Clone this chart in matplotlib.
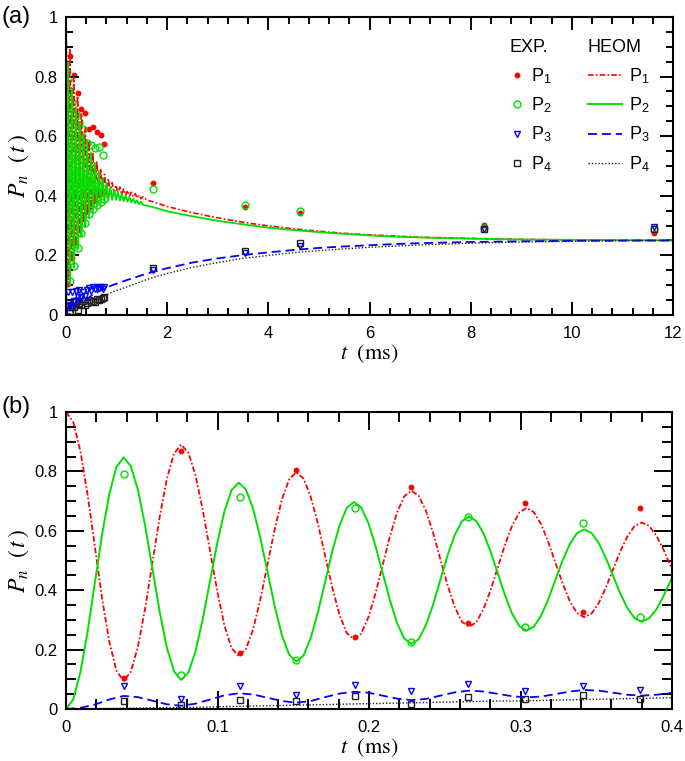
import numpy as np
import matplotlib
matplotlib.use('Agg')
import matplotlib.pyplot as plt
from matplotlib.lines import Line2D
from matplotlib.ticker import MultipleLocator, FuncFormatter

plt.rcParams['font.family'] = ['Liberation Sans', 'DejaVu Sans']
plt.rcParams['mathtext.fontset'] = 'stix'
plt.rcParams['lines.scale_dashes'] = False

# ---- HEOM curves, panel (b): sampled every 0.00475 ms ----
dt_b = 0.00475
p1_b = [1.000, 0.966, 0.868, 0.721, 0.548, 0.374, 0.228, 0.129, 0.095,
        0.125, 0.211, 0.340, 0.493, 0.645, 0.774, 0.860, 0.890,
        0.863, 0.786, 0.670, 0.534, 0.398, 0.282, 0.205, 0.178,
        0.202, 0.269, 0.369, 0.488, 0.606, 0.706, 0.773, 0.797,
        0.776, 0.715, 0.624, 0.516, 0.409, 0.317, 0.256, 0.235,
        0.254, 0.308, 0.389, 0.485, 0.581, 0.662, 0.716, 0.735,
        0.718, 0.668, 0.594, 0.506, 0.418, 0.344, 0.294, 0.277,
        0.292, 0.336, 0.400, 0.477, 0.554, 0.618, 0.662, 0.677,
        0.663, 0.623, 0.563, 0.493, 0.423, 0.363, 0.323, 0.309,
        0.321, 0.356, 0.408, 0.469, 0.530, 0.581, 0.616, 0.628,
        0.617, 0.585, 0.538, 0.482, 0.425]
p2_b = [0.000, 0.032, 0.124, 0.261, 0.424, 0.586, 0.723, 0.815, 0.847,
        0.818, 0.737, 0.616, 0.473, 0.329, 0.208, 0.127, 0.098,
        0.123, 0.195, 0.303, 0.430, 0.557, 0.665, 0.737, 0.762,
        0.739, 0.674, 0.576, 0.461, 0.346, 0.248, 0.183, 0.160,
        0.180, 0.239, 0.326, 0.428, 0.531, 0.618, 0.677, 0.697,
        0.679, 0.627, 0.549, 0.458, 0.367, 0.289, 0.237, 0.219,
        0.235, 0.282, 0.351, 0.434, 0.516, 0.585, 0.632, 0.648,
        0.633, 0.592, 0.530, 0.456, 0.383, 0.320, 0.279, 0.264,
        0.277, 0.314, 0.369, 0.435, 0.500, 0.555, 0.592, 0.605,
        0.593, 0.560, 0.509, 0.450, 0.390, 0.340, 0.306, 0.294,
        0.305, 0.334, 0.379, 0.432, 0.485]
# P3, P4 sampled every 0.0095 ms
dt_b34 = 0.0095
p3_b = [0.000, 0.004, 0.015, 0.032, 0.044, 0.040, 0.028, 0.016, 0.011,
        0.018, 0.032, 0.046, 0.053, 0.049, 0.038, 0.027, 0.021,
        0.027, 0.040, 0.052, 0.058, 0.055, 0.045, 0.035, 0.030,
        0.034, 0.045, 0.056, 0.062, 0.059, 0.051, 0.043, 0.039,
        0.042, 0.050, 0.059, 0.064, 0.062, 0.055, 0.048, 0.045,
        0.048, 0.054, 0.058]
p4_b = [0.000, 0.000, 0.001, 0.002, 0.003, 0.003, 0.004, 0.005, 0.005,
        0.006, 0.007, 0.008, 0.009, 0.010, 0.011, 0.012, 0.013,
        0.014, 0.015, 0.016, 0.017, 0.018, 0.019, 0.020, 0.021,
        0.022, 0.023, 0.024, 0.025, 0.026, 0.027, 0.027, 0.028,
        0.029, 0.030, 0.031, 0.032, 0.033, 0.034, 0.035, 0.036,
        0.037, 0.038, 0.039]

# ---- HEOM curves, panel (a): extra extrema after 0.4 ms and long tail ----
t_osc = [0.418, 0.456, 0.494, 0.532, 0.570, 0.608, 0.646, 0.684, 0.722, 0.760,
         0.798, 0.836, 0.874, 0.912, 0.950, 0.988, 1.026, 1.064, 1.102, 1.140,
         1.178, 1.216, 1.254, 1.292, 1.330, 1.368, 1.406, 1.444, 1.482, 1.520]
p1_osc = [0.335, 0.585, 0.355, 0.545, 0.374, 0.516, 0.389, 0.491, 0.399, 0.472,
          0.404, 0.457, 0.406, 0.444, 0.406, 0.436, 0.406, 0.429, 0.404, 0.423,
          0.401, 0.418, 0.399, 0.412, 0.396, 0.407, 0.393, 0.402, 0.390, 0.397]
p2_osc = [0.585, 0.325, 0.545, 0.345, 0.510, 0.362, 0.483, 0.375, 0.461, 0.382,
          0.444, 0.385, 0.430, 0.386, 0.420, 0.386, 0.413, 0.384, 0.407, 0.382,
          0.401, 0.380, 0.396, 0.378, 0.390, 0.375, 0.385, 0.372, 0.380, 0.369]
t_tail = [1.6, 1.8, 2.0, 2.5, 3.0, 3.5, 4.0, 4.5, 5.0, 5.5, 6.0, 6.5, 7.0,
          7.5, 8.0, 9.0, 10.0, 11.0, 12.0]
p1_tail = [0.386, 0.375, 0.364, 0.343, 0.326, 0.311, 0.299, 0.289, 0.281,
           0.274, 0.269, 0.265, 0.261, 0.259, 0.257, 0.254, 0.252, 0.251, 0.2505]
p2_tail = [0.367, 0.358, 0.348, 0.331, 0.316, 0.304, 0.293, 0.285, 0.278,
           0.272, 0.267, 0.263, 0.260, 0.258, 0.256, 0.253, 0.252, 0.251, 0.2505]
t_34 = [0.5, 0.6, 0.7, 0.8, 0.9, 1.0, 1.2, 1.4, 1.6, 1.8, 2.0, 2.5, 3.0, 3.5,
        4.0, 4.5, 5.0, 5.5, 6.0, 6.5, 7.0, 7.5, 8.0, 9.0, 10.0, 11.0, 12.0]
p3_tail = [0.065, 0.075, 0.084, 0.092, 0.099, 0.105, 0.117, 0.128, 0.139,
           0.148, 0.157, 0.176, 0.190, 0.201, 0.210, 0.218, 0.225, 0.230,
           0.234, 0.238, 0.241, 0.243, 0.245, 0.247, 0.249, 0.2495, 0.250]
p4_tail = [0.041, 0.048, 0.058, 0.068, 0.076, 0.082, 0.094, 0.107, 0.119,
           0.130, 0.139, 0.160, 0.176, 0.190, 0.200, 0.209, 0.216, 0.222,
           0.227, 0.231, 0.235, 0.238, 0.241, 0.245, 0.247, 0.249, 0.250]

# ---- experimental points ----
t_exp = [0.038, 0.076, 0.115, 0.152, 0.191, 0.228, 0.265, 0.303, 0.341, 0.379]
e1 = [0.105, 0.870, 0.190, 0.805, 0.244, 0.746, 0.290, 0.692, 0.327, 0.678]
e2 = [0.791, 0.115, 0.715, 0.165, 0.676, 0.226, 0.648, 0.276, 0.625, 0.310]
e3 = [0.077, 0.033, 0.077, 0.047, 0.081, 0.061, 0.084, 0.061, 0.077, 0.064]
e4 = [0.028, 0.013, 0.030, 0.027, 0.045, 0.017, 0.041, 0.033, 0.047, 0.033]

t_exp_mid = [0.418, 0.456, 0.494, 0.532, 0.570, 0.608, 0.646, 0.684, 0.722, 0.760]
e1_mid = [0.360, 0.625, 0.380, 0.630, 0.395, 0.615, 0.405, 0.604, 0.415, 0.574]
e2_mid = [0.578, 0.340, 0.570, 0.355, 0.561, 0.370, 0.562, 0.380, 0.537, 0.390]
e3_mid = [0.085, 0.090, 0.082, 0.093, 0.088, 0.095, 0.090, 0.094, 0.088, 0.095]
e4_mid = [0.040, 0.050, 0.042, 0.048, 0.045, 0.052, 0.050, 0.055, 0.058, 0.062]

t_exp_late = [1.72, 3.54, 4.63, 8.27, 11.63]
e1_late = [0.442, 0.363, 0.341, 0.301, 0.276]
e2_late = [0.422, 0.369, 0.349, 0.292, 0.290]
e3_late = [0.152, 0.208, 0.233, 0.288, 0.294]
e4_late = [0.157, 0.216, 0.242, 0.288, 0.287]

red = '#ff0000'
green = '#00e000'
blue = '#0000ff'
black = '#222222'
ls1 = (0, (4.0, 1.6, 1.2, 1.6))
ls3 = (0, (6.5, 3.5))
ls4 = (0, (1.0, 1.4))

t_b = np.arange(len(p1_b)) * dt_b
t_b34 = np.arange(len(p3_b)) * dt_b34

fig = plt.figure(figsize=(6.85, 7.61), dpi=100)
ax_a = fig.add_axes([0.0964, 0.5861, 0.8861, 0.3916])
ax_b = fig.add_axes([0.0964, 0.0683, 0.8847, 0.3903])

# panel (a): experimental points under the curves
tea = t_exp + t_exp_mid + t_exp_late
ax_a.plot(tea, e1 + e1_mid + e1_late, 'o', color=red, ms=3.2, ls='none', zorder=1)
ax_a.plot(tea, e2 + e2_mid + e2_late, 'o', mfc='none', mec=green, mew=1.0, ms=5, ls='none', zorder=1)
ax_a.plot(tea, e3 + e3_mid + e3_late, 'v', mfc='none', mec=blue, mew=1.0, ms=5, ls='none', zorder=1)
ax_a.plot(tea, e4 + e4_mid + e4_late, 's', mfc='none', mec=black, mew=1.0, ms=4.2, ls='none', zorder=1)

n = len(p1_b) - 1
ta = np.concatenate([t_b[:n], t_osc, t_tail])
ax_a.plot(ta, np.concatenate([p1_b[:n], p1_osc, p1_tail]), color=red, lw=1.2, ls=ls1)
ax_a.plot(ta, np.concatenate([p2_b[:n], p2_osc, p2_tail]), color=green, lw=1.3)
t34a = np.concatenate([t_b34[:-2], t_34])
ax_a.plot(t34a, np.concatenate([p3_b[:-2], p3_tail]), color=blue, lw=1.3, ls=ls3)
ax_a.plot(t34a, np.concatenate([p4_b[:-2], p4_tail]), color=black, lw=1.0, ls=ls4)

# panel (b)
ax_b.plot(t_b, p1_b, color=red, lw=1.3, ls=ls1)
ax_b.plot(t_b, p2_b, color=green, lw=1.4)
ax_b.plot(t_b34, p3_b, color=blue, lw=1.3, ls=ls3)
ax_b.plot(t_b34, p4_b, color=black, lw=1.0, ls=ls4)
ax_b.plot(t_exp, e1, 'o', color=red, ms=3.2, ls='none')
ax_b.plot(t_exp, e2, 'o', mfc='none', mec=green, mew=1.0, ms=5, ls='none')
ax_b.plot(t_exp, e3, 'v', mfc='none', mec=blue, mew=1.0, ms=5, ls='none')
ax_b.plot(t_exp, e4, 's', mfc='none', mec=black, mew=1.0, ms=4.2, ls='none')

fmt = FuncFormatter(lambda v, _: f'{v:g}')
for ax, xmax, xmaj, xmin, big, small in [(ax_a, 12, 2, 0.4, 9.5, 5),
                                         (ax_b, 0.4, 0.1, 0.02, 13, 7)]:
    ax.set_xlim(0, xmax)
    ax.set_ylim(0, 1)
    ax.xaxis.set_major_locator(MultipleLocator(xmaj))
    ax.xaxis.set_minor_locator(MultipleLocator(xmin))
    ax.yaxis.set_major_locator(MultipleLocator(0.2))
    ax.yaxis.set_minor_locator(MultipleLocator(0.05))
    ax.xaxis.set_major_formatter(fmt)
    ax.yaxis.set_major_formatter(fmt)
    ax.tick_params(which='both', direction='in', top=True, right=True, width=1.4,
                   labelsize=12)
    ax.tick_params(which='major', length=big)
    ax.tick_params(which='minor', length=small)
    ax.tick_params(axis='x', pad=8)
    ax.tick_params(axis='y', pad=6)
    for s in ax.spines.values():
        s.set_linewidth(1.5)
    ax.set_ylabel(r'$P_n\ \ (\,t\,)$', fontsize=17)
    ax.set_xlabel(r'$t\ \ (\mathrm{ms})$', fontsize=16, labelpad=1)
    ax.yaxis.set_label_coords(-0.058, 0.5)

# legends
exp_h = [Line2D([], [], ls='none', marker='o', color=red, ms=3.2),
         Line2D([], [], ls='none', marker='o', mfc='none', mec=green, ms=5),
         Line2D([], [], ls='none', marker='v', mfc='none', mec=blue, ms=5),
         Line2D([], [], ls='none', marker='s', mfc='none', mec=black, ms=4.2)]
heom_h = [Line2D([], [], color=red, lw=1.2, ls=ls1),
          Line2D([], [], color=green, lw=1.4),
          Line2D([], [], color=blue, lw=1.3, ls=ls3),
          Line2D([], [], color=black, lw=1.0, ls=ls4)]
labels = [r'P$_\mathregular{1}$', r'P$_\mathregular{2}$',
          r'P$_\mathregular{3}$', r'P$_\mathregular{4}$']
leg1 = ax_a.legend(exp_h, labels, title='EXP.', loc='upper left',
                   bbox_to_anchor=(0.716, 0.955), frameon=False, fontsize=13,
                   title_fontsize=13, handlelength=0.8, handletextpad=0.4,
                   labelspacing=0.55, borderpad=0, alignment='left')
ax_a.add_artist(leg1)
ax_a.legend(heom_h, labels, title='HEOM', loc='upper left',
            bbox_to_anchor=(0.845, 0.955), frameon=False, fontsize=13,
            title_fontsize=13, handlelength=1.9, handletextpad=0.4,
            labelspacing=0.55, borderpad=0, alignment='left')

fig.text(0.002, 0.978, '(a)', fontsize=17, va='center', ha='left')
fig.text(0.002, 0.465, '(b)', fontsize=17, va='center', ha='left')

fig.savefig('out.png', dpi=100)
